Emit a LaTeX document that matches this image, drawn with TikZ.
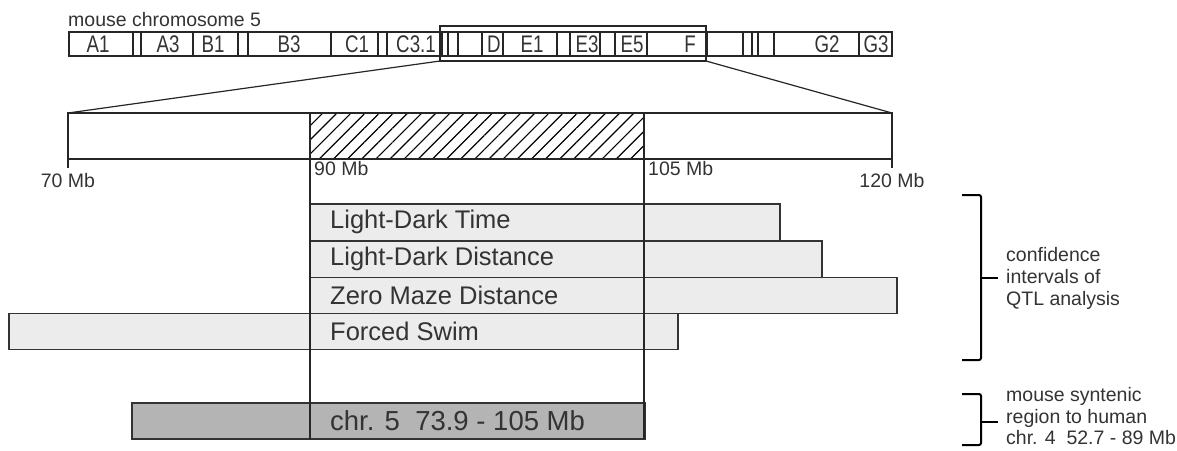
\documentclass[tikz,border=0pt]{standalone}
\usepackage{fontspec}
\setmainfont{Liberation Sans}
\usetikzlibrary{patterns.meta}
\definecolor{textgray}{HTML}{333333}
\definecolor{barlight}{HTML}{ECECEC}
\definecolor{bardark}{HTML}{B4B4B4}

\begin{document}
\begin{tikzpicture}[
    x=1pt, y=-1pt,
    font=\fontsize{19.5}{22}\selectfont,
    % Style for the thin outline lines
    outline/.style={line width=1.2pt, draw=black!85},
    % Style for the QTL interval bars
    qtlbar/.style={line width=1.6pt, draw=black!80, fill=barlight},
    % Style for the text inside the bars
    bartext/.style={anchor=west, text=textgray, inner sep=0pt,
        font=\fontsize{25.5}{28}\selectfont},
    % Style for the small labels
    smalltext/.style={text=textgray, inner sep=0pt},
    % Style for the brackets on the right
    bracket/.style={line width=2pt, rounded corners=2pt}
]
\useasboundingbox (0,0) rectangle (1177,450);

% --- Chromosome ideogram ---
\node[smalltext, anchor=base west] (title) at (68,26.5) {mouse chromosome 5};
\draw[outline] (69,32) rectangle (892,56);
\foreach \xb in {133,141,193,238,248,331,378,387,442,448,458,482,503,557,570,600,615,647,707,743,752,758,774,859}
    \draw[outline] (\xb,32) -- (\xb,56);
\foreach \xl/\lbl [count=\i] in {98/A1, 168/A3, 213/B1, 289/B3, 357/C1, 416/C3.1, 494/D, 532/E1, 587/E3, 632/E5, 690/F, 827/G2, 876/G3}
    \node[smalltext] (band\i) at (\xl,44.5) {\fontsize{24}{26}\selectfont\scalebox{.78}[1]{\lbl}};

% --- Zoomed window ---
\draw[outline] (440,26) rectangle (706,61);
\coordinate (zoomL) at (440,61);
\coordinate (zoomR) at (706,61);

% --- Expanded region 70 - 120 Mb ---
\coordinate (mapL) at (68,113);
\coordinate (mapR) at (892,113);
\fill[pattern={Lines[angle=45, distance=10pt, line width=1.2pt]}] (310,113) rectangle (644,159);
\draw[outline] (mapL) rectangle (892,159);
\draw[outline] (zoomL) -- (mapL);
\draw[outline] (zoomR) -- (mapR);
\draw[outline] (68,159) -- (68,168);
\draw[outline] (892,159) -- (892,168);
\node[smalltext] (mb70) at (68,181) {70 Mb};
\node[smalltext, anchor=west] (mb90) at (314,169) {90 Mb};
\node[smalltext, anchor=west] (mb105) at (648,169) {105 Mb};
\node[smalltext] (mb120) at (892,181) {120 Mb};

% --- Confidence intervals ---
\draw[qtlbar] (310,204) rectangle (780,240.7);
\draw[qtlbar] (310,240.7) rectangle (822,277.3);
\draw[qtlbar] (310,277.3) rectangle (897,313.3);
\draw[qtlbar] (9,313.3) rectangle (678,349.3);
\node[bartext] (ldtime) at (330,222.3) {Light-Dark Time};
\node[bartext] (lddist) at (330,259) {Light-Dark Distance};
\node[bartext] (zmdist) at (330,295.3) {Zero Maze Distance};
\node[bartext] (fswim) at (330,331.3) {Forced Swim};

% --- Syntenic region ---
\draw[qtlbar, fill=bardark] (132,403) rectangle (645,439);
\node[bartext, font=\fontsize{27.5}{30}\selectfont] (synt) at (330,421) {chr. 5\ \ 73.9 - 105 Mb};

% --- Borders of the QTL peak ---
\draw[outline] (310,113) -- (310,439);
\draw[outline] (644,113) -- (644,439);

% --- Brackets and notes ---
\draw[bracket] (962,195) -- (981,195) -- (981,360) -- (962,360);
\draw[bracket] (981,278) -- (998,278);
\node[smalltext, anchor=west, align=left] (ci) at (1006,278) {confidence\\intervals of\\QTL analysis};
\draw[bracket] (962,394) -- (981,394) -- (981,445) -- (962,445);
\draw[bracket] (981,421.7) -- (998,421.7);
\node[smalltext, anchor=west, align=left, font=\fontsize{19.5}{21.5}\selectfont] (synnote) at (1006,416.5) {mouse syntenic\\region to human\\chr. 4\ \ 52.7 - 89 Mb};

\end{tikzpicture}
\end{document}
